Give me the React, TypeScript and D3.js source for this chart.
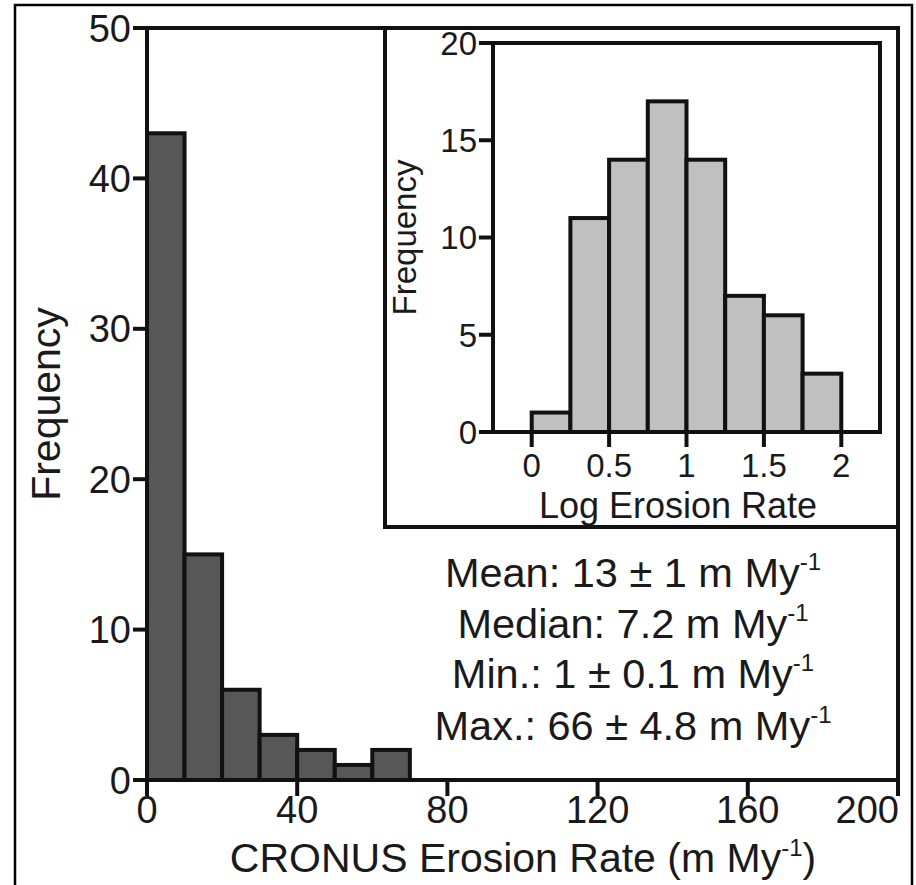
import React from "react";
import * as d3 from "d3";

const mainBinStarts = [0, 10, 20, 30, 40, 50, 60];
const mainBinWidth = 10;
const mainCounts = [43, 15, 6, 3, 2, 1, 2];
const mainXTicks = [0, 40, 80, 120, 160, 200];
const mainYTicks = [0, 10, 20, 30, 40, 50];

const insetBinStarts = [0, 0.25, 0.5, 0.75, 1, 1.25, 1.5, 1.75];
const insetBinWidth = 0.25;
const insetCounts = [1, 11, 14, 17, 14, 7, 6, 3];
const insetXTicks = [0, 0.5, 1, 1.5, 2];
const insetYTicks = [0, 5, 10, 15, 20];

const statsPrefix = ["Mean: 13 ± 1 m My", "Median: 7.2 m My", "Min.: 1 ± 0.1 m My", "Max.: 66 ± 4.8 m My"];

const FONT = "'Liberation Sans', Arial, Helvetica, sans-serif";

export default function App() {
  const W = 916, H = 885;
  const x = d3.scaleLinear().domain([0, 200]).range([147, 898]);
  const y = d3.scaleLinear().domain([0, 50]).range([780, 28]);
  const ix = d3.scaleLinear().domain([-0.25, 2.25]).range([493, 880]);
  const iy = d3.scaleLinear().domain([0, 20]).range([432, 43]);
  const lw = 4;

  return (
    <svg width={W} height={H} style={{ position: "absolute", left: 0, top: 0, background: "#fff" }} fontFamily={FONT}>
      <rect x={0} y={0} width={W} height={H} fill="#fff" />
      {/* outer border */}
      <rect x={15} y={5} width={897} height={900} fill="none" stroke="#000" strokeWidth={2.5} />

      {/* main bars */}
      {mainCounts.map((c, i) => (
        <rect key={"mb" + i} x={x(mainBinStarts[i])} y={y(c)}
          width={x(mainBinStarts[i] + mainBinWidth) - x(mainBinStarts[i])} height={y(0) - y(c)}
          fill="#575757" stroke="#111" strokeWidth={lw} />
      ))}

      {/* main frame */}
      <rect x={x(0)} y={y(50)} width={x(200) - x(0)} height={y(0) - y(50)} fill="none" stroke="#111" strokeWidth={lw} />
      {mainYTicks.map((t) => (
        <g key={"my" + t}>
          <line x1={x(0) - 14} x2={x(0)} y1={y(t)} y2={y(t)} stroke="#111" strokeWidth={lw} />
          <text x={x(0) - 16} y={y(t)} dy="0.36em" textAnchor="end" fontSize={38} fill="#1a1a1a">{t}</text>
        </g>
      ))}
      {mainXTicks.map((t) => (
        <g key={"mx" + t}>
          <line x1={x(t)} x2={x(t)} y1={y(0)} y2={y(0) + 16} stroke="#111" strokeWidth={lw} />
          <text x={t === 200 ? x(t) + 1 : x(t)} y={823} textAnchor={t === 200 ? "end" : "middle"} fontSize={38} fill="#1a1a1a">{t}</text>
        </g>
      ))}
      <text x={523} y={872} textAnchor="middle" fontSize={41} fill="#1a1a1a">
        CRONUS Erosion Rate (m My<tspan fontSize={24} dy={-16}>-1</tspan><tspan dy={16}>)</tspan>
      </text>
      <text transform={`translate(60,${(y(0) + y(50)) / 2}) rotate(-90)`} textAnchor="middle" fontSize={41} fill="#1a1a1a">Frequency</text>

      {/* stats */}
      {statsPrefix.map((s, i) => (
        <text key={"st" + i} x={633} y={[587, 638, 688, 740][i]} textAnchor="middle" fontSize={41.5} fill="#1a1a1a">
          {s}<tspan fontSize={24} dy={-17}>-1</tspan>
        </text>
      ))}

      {/* inset box */}
      <rect x={385} y={28} width={898 - 385} height={527 - 28} fill="#fff" stroke="#111" strokeWidth={lw} />

      {/* inset bars */}
      {insetCounts.map((c, i) => (
        <rect key={"ib" + i} x={ix(insetBinStarts[i])} y={iy(c)}
          width={ix(insetBinStarts[i] + insetBinWidth) - ix(insetBinStarts[i])} height={iy(0) - iy(c)}
          fill="#c0c0c0" stroke="#111" strokeWidth={lw} />
      ))}
      <rect x={ix(-0.25)} y={iy(20)} width={ix(2.25) - ix(-0.25)} height={iy(0) - iy(20)} fill="none" stroke="#111" strokeWidth={lw} />
      {insetYTicks.map((t) => (
        <g key={"iyt" + t}>
          <line x1={ix(-0.25) - 14} x2={ix(-0.25)} y1={iy(t)} y2={iy(t)} stroke="#111" strokeWidth={lw} />
          <text x={ix(-0.25) - 16} y={iy(t)} dy="0.36em" textAnchor="end" fontSize={33} fill="#1a1a1a">{t}</text>
        </g>
      ))}
      {insetXTicks.map((t) => (
        <g key={"ixt" + t}>
          <line x1={ix(t)} x2={ix(t)} y1={iy(0)} y2={iy(0) + 15} stroke="#111" strokeWidth={lw} />
          <text x={ix(t)} y={477} textAnchor="middle" fontSize={33} fill="#1a1a1a">{String(t)}</text>
        </g>
      ))}
      <text x={678} y={518} textAnchor="middle" fontSize={36} fill="#1a1a1a">Log Erosion Rate</text>
      <text transform={`translate(416,${(iy(0) + iy(20)) / 2}) rotate(-90)`} textAnchor="middle" fontSize={33} fill="#1a1a1a">Frequency</text>
    </svg>
  );
}
